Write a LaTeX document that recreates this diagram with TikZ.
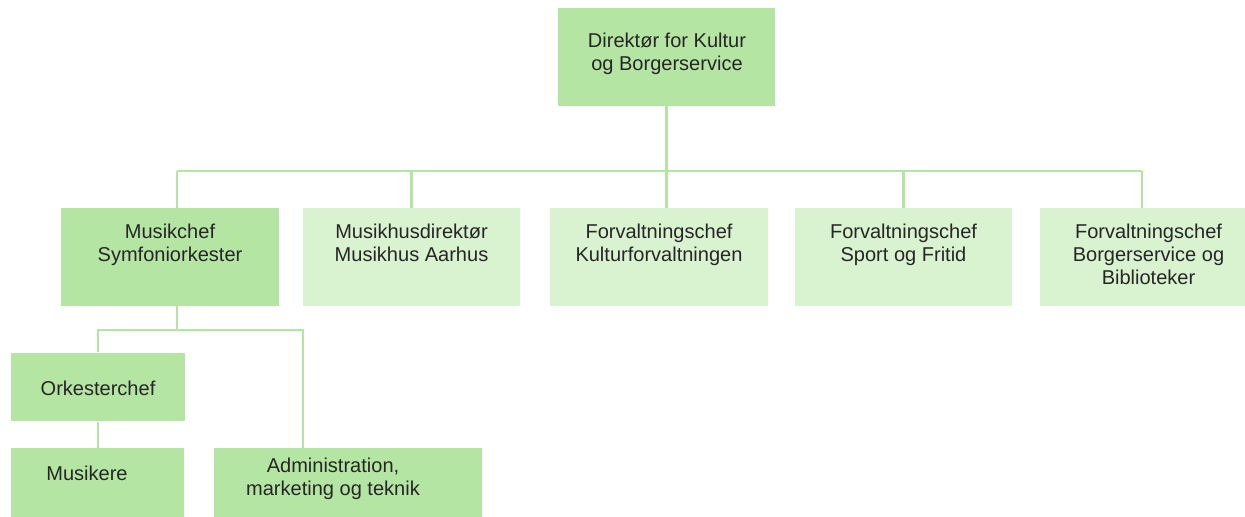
\documentclass[tikz,border=0pt]{standalone}
\usepackage{fontspec}
\setmainfont{Liberation Sans}
\definecolor{darkgreen}{HTML}{B4E5A2}
\definecolor{lightgreen}{HTML}{D9F2D0}
\tikzset{
    box/.style={rectangle, inner sep=0pt, minimum width=4.36cm, minimum height=1.96cm},
    boxdark/.style={box, fill=darkgreen},
    boxlight/.style={box, fill=lightgreen},
    unit/.style={rectangle, inner sep=0pt, minimum width=3.48cm, minimum height=1.37cm, fill=darkgreen},
    txt/.style={align=center, inner sep=0pt, text=black!85, font=\fontsize{11.4}{12.9}\selectfont},
    link/.style={draw=darkgreen, line width=1.6pt}
}

\begin{document}
\begin{tikzpicture}[x=0.02cm, y=-0.02cm]
\useasboundingbox (0,0) rectangle (1245,517);
\clip (0,0) rectangle (1245,517);

% Director
\node[boxdark] (dir) at (666.5,57) {};
\node[txt, below] (dirtxt) at (667,33) {Direktør for Kultur\\og Borgerservice};

% Second level
\node[boxdark] (mus) at (170,257) {};
\node[txt, below] (mustxt) at (170,224) {Musikchef\\Symfoniorkester};
\foreach \name/\x/\text in {hus/411.5/{Musikhusdirektør\\Musikhus Aarhus},
    kul/659/{Forvaltningschef\\Kulturforvaltningen},
    spo/903.5/{Forvaltningschef\\Sport og Fritid},
    bib/1148.5/{Forvaltningschef\\Borgerservice og\\Biblioteker}} {
    \node[boxlight] (\name) at (\x,257) {};
    \node[txt, below] (\name txt) at (\x,224) {\text};
}

% Orchestra
\node[unit] (orc) at (98,387) {};
\node[txt] (orctxt) at (98,388) {Orkesterchef};
\node[unit] (muk) at (97.5,482.5) {};
\node[txt] (muktxt) at (87,473) {Musikere};
\node[unit, minimum width=5.36cm] (adm) at (348,482.5) {};
\node[txt] (admtxt) at (333,479) {Administration,\\marketing og teknik};

% Connections
\coordinate (busL) at (177,171);
\coordinate (busR) at (1142,171);
\draw[link] (dir.south) -- (dir.south |- kul.north);
\draw[link] (busL) -- (busR);
\draw[link] (busL) -- (busL |- mus.north);
\draw[link] (busR) -- (busR |- bib.north);
\foreach \name in {hus,spo} {
    \draw[link] (\name.north |- busL) -- (\name.north);
}

\coordinate (sub) at (177,330);
\coordinate (admtop) at (303,448);
\draw[link] (sub |- mus.south) -- (sub);
\draw[link] (orc.north) |- (admtop |- sub) -- (admtop);
\draw[link] (orc.south) -- (orc.south |- muk.north);
\end{tikzpicture}
\end{document}
